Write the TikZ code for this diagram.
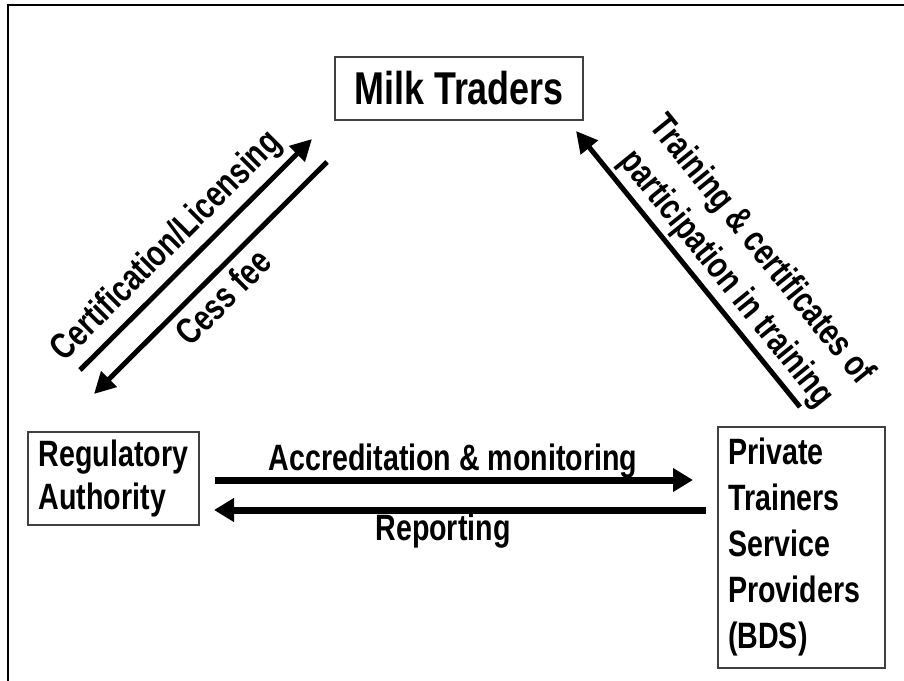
\documentclass[tikz,border=0pt]{standalone}
\usepackage{fontspec}
\newfontfamily\narrowsans{Liberation Sans}[FakeStretch=0.78]
\usepackage{tikz}
\usetikzlibrary{arrows.meta}
\tikzset{every picture/.style={line width=0.75pt}}
\tikzset{
  actor/.style={draw=black!75, line width=0.9pt, inner sep=0pt, align=left,
    font=\narrowsans\bfseries\fontsize{27.5}{32}\selectfont},
  flowlabel/.style={inner sep=0pt, align=center,
    font=\narrowsans\bfseries\fontsize{27.5}{32}\selectfont},
  slant/.style={line width=3.75pt, -{Triangle[length=16pt,width=16pt]}},
  flat/.style={line width=5.25pt, -{Triangle[length=15pt,width=17pt]}}
}

\begin{document}
\begin{tikzpicture}[x=0.75pt,y=0.75pt,yscale=-1,xscale=1]
\useasboundingbox (0,0) rectangle (904,681);

%Frame (top and left only)
\draw [line width=2pt] (8,681) -- (8,5) -- (904,5) ;

%Boxes
\node [actor, minimum width=186pt, minimum height=47.25pt, font=\narrowsans\bfseries\fontsize{34.5}{40}\selectfont] (traders) at (459,88.5) {Milk Traders};
\node [actor, minimum width=128.25pt, minimum height=69.75pt] (authority) at (113.5,478.5) {Regulatory\\Authority};
\node [actor, minimum width=125.25pt, minimum height=180.75pt, text width=110pt, inner xsep=7.5pt, font=\narrowsans\bfseries\fontsize{27.5}{34.5}\selectfont] (trainers) at (801.5,547.5) {Private\\Trainers\\Service\\Providers\\(BDS)};

%Arrow ends
\coordinate (certA) at (80,370);
\coordinate (certB) at (312,139);
\coordinate (cessA) at (327,162);
\coordinate (cessB) at (94,394);
\coordinate (trainA) at (800,407);
\coordinate (trainB) at (576,131);
\coordinate (accrA) at (215,480);
\coordinate (accrB) at (693,480);
\coordinate (repA) at (706,510);
\coordinate (repB) at (214,510);

%Straight Lines
\draw [slant] (certA) -- (certB) ;
\draw [slant] (cessA) -- (cessB) ;
\draw [slant] (trainA) -- (trainB) ;
\draw [flat] (accrA) -- (accrB) ;
\draw [flat] (repA) -- (repB) ;

% Text Node
\node [flowlabel, rotate=45] (certlbl) at (167,247) {Certification/Licensing};
% Text Node
\node [flowlabel, rotate=45] (cesslbl) at (223,297) {Cess fee};
% Text Node
\node [flowlabel, rotate=-51, font=\narrowsans\bfseries\fontsize{27.5}{34}\selectfont] (trainlbl) at (743,265) {Training \& certificates of\\participation in training};
% Text Node
\node [flowlabel] (accrlbl) at (453,461) {Accreditation \& monitoring};
% Text Node
\node [flowlabel] (replbl) at (443,531) {Reporting};

\end{tikzpicture}
\end{document}
